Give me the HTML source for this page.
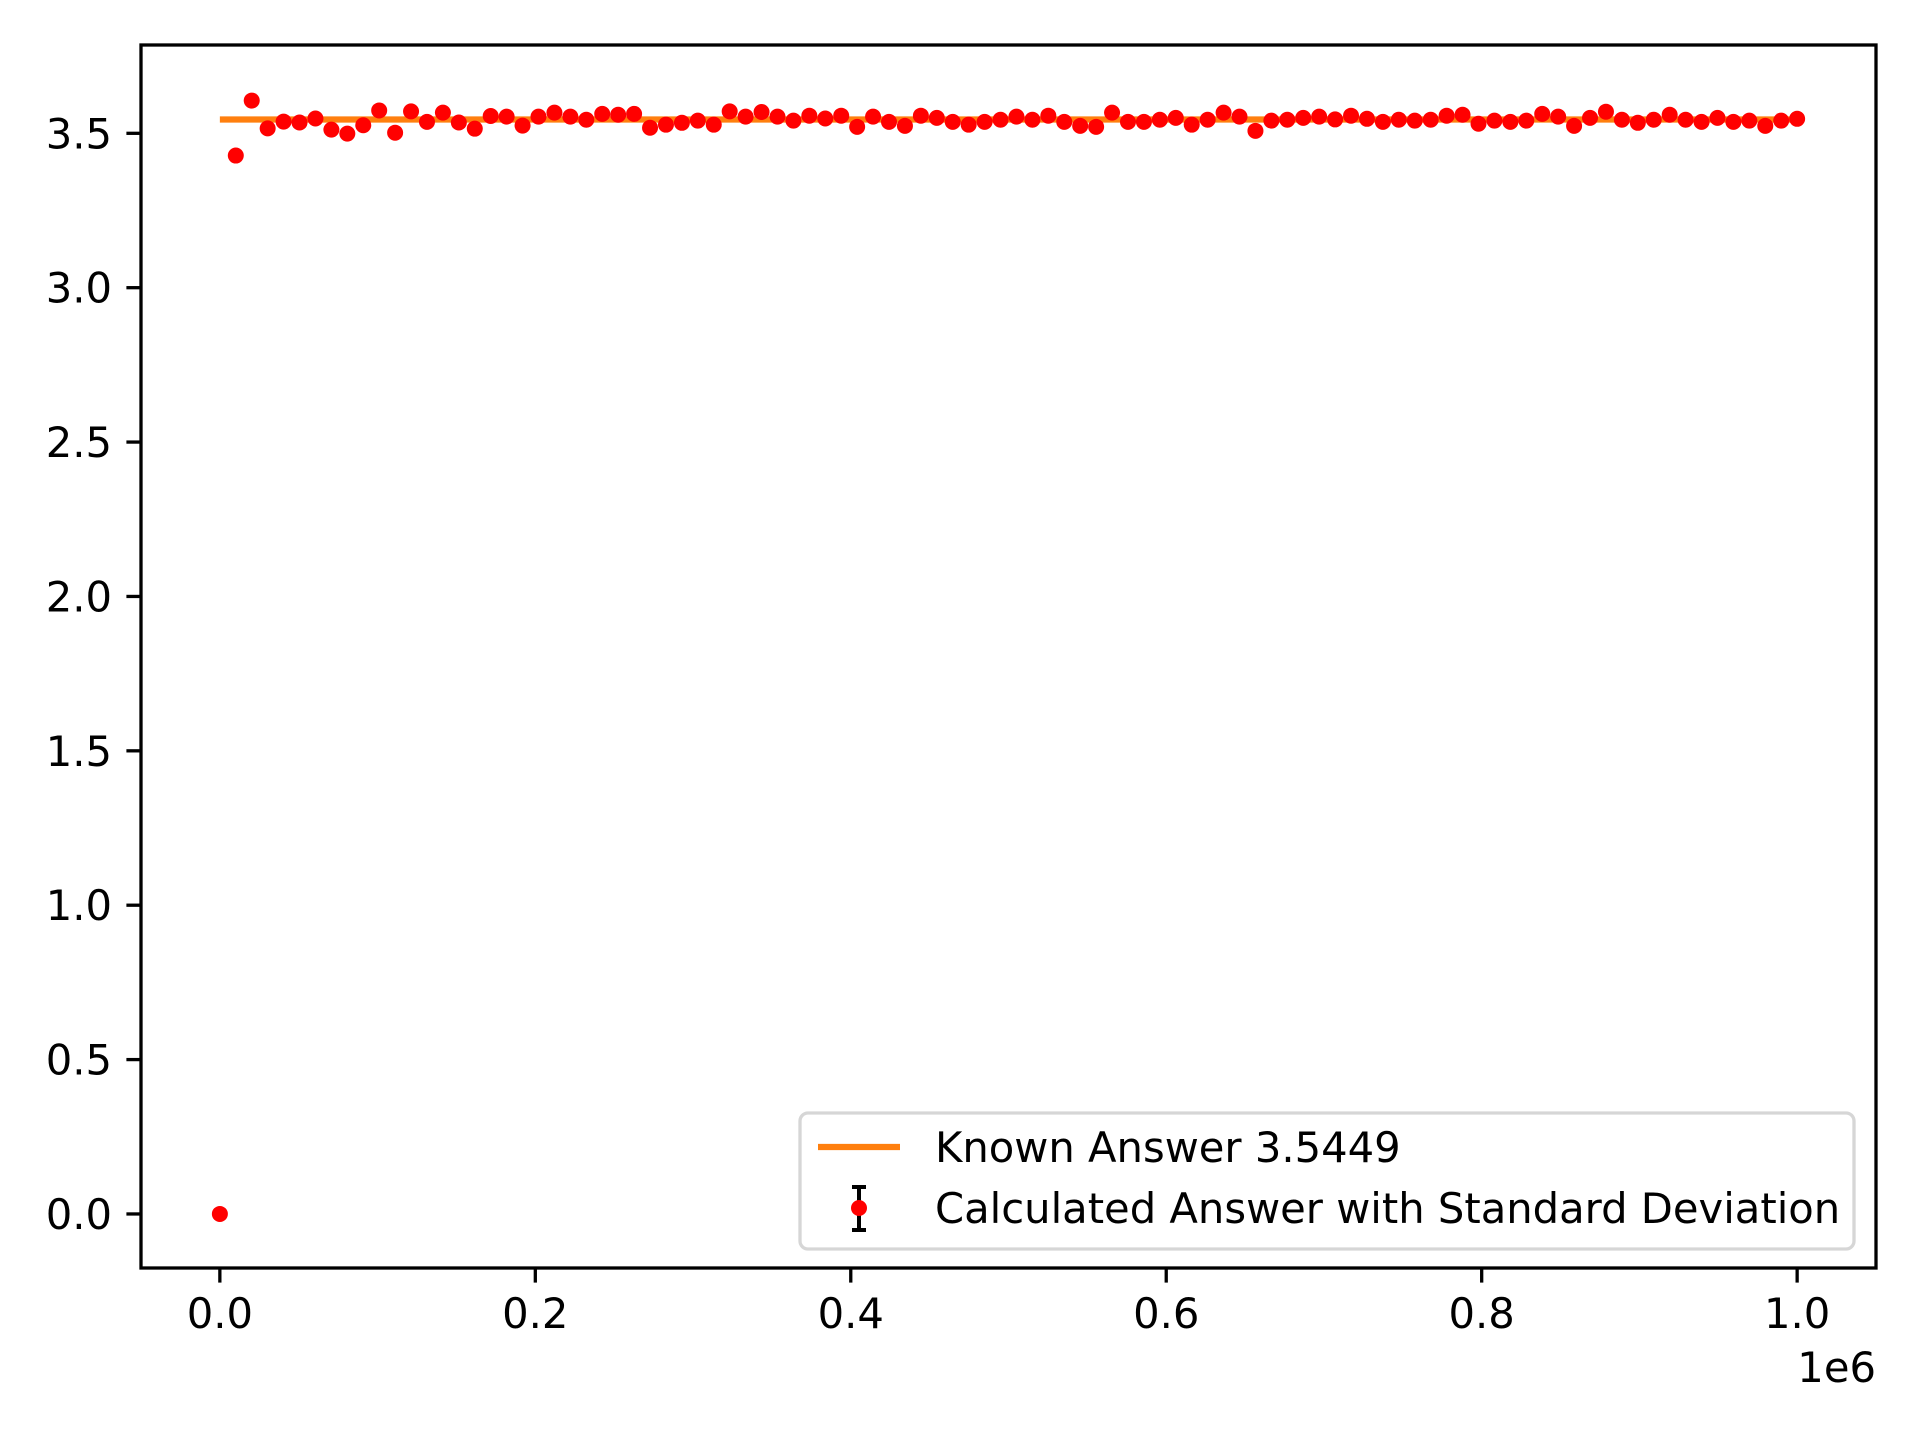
<!DOCTYPE html>
<html><head><meta charset="utf-8">
<style>
html,body{margin:0;padding:0;background:#fff;}
svg{display:block;font-family:"DejaVu Sans","Liberation Sans",sans-serif;}
</style></head>
<body>
<svg id="chart" width="1920" height="1440" viewBox="0 0 1920 1440" xmlns="http://www.w3.org/2000/svg">
<rect x="0" y="0" width="1920" height="1440" fill="#fff"/>
<g id="marks"></g>
<rect x="141" y="45" width="1735" height="1223" fill="none" stroke="#000" stroke-width="3.3"/>
<g id="xticks"></g>
<g id="yticks"></g>
<text x="1876" y="1382" text-anchor="end" font-size="41.7">1e6</text>
<g>
<rect x="800" y="1113" width="1054" height="136" rx="8" fill="#fff" fill-opacity="0.8" stroke="#d6d6d6" stroke-width="3.3"/>
<line x1="818" y1="1147" x2="900" y2="1147" stroke="#ff7f0e" stroke-width="6.25"/>
<text x="935" y="1162" font-size="41.7">Known Answer 3.5449</text>
<g>
<line x1="859" y1="1187" x2="859" y2="1230" stroke="#000" stroke-width="4"/>
<line x1="852" y1="1187" x2="866" y2="1187" stroke="#000" stroke-width="4"/>
<line x1="852" y1="1230" x2="866" y2="1230" stroke="#000" stroke-width="4"/>
<circle cx="859" cy="1208" r="8" fill="#ff0000"/>
</g>
<text x="935" y="1223" font-size="41.7">Calculated Answer with Standard Deviation</text>
</g>
</svg>
<script>
const xTicks = [0, 0.2, 0.4, 0.6, 0.8, 1.0];
const xTickLabels = ["0.0", "0.2", "0.4", "0.6", "0.8", "1.0"];
const yTicks = [0, 0.5, 1.0, 1.5, 2.0, 2.5, 3.0, 3.5];
const yTickLabels = ["0.0", "0.5", "1.0", "1.5", "2.0", "2.5", "3.0", "3.5"];
const knownAnswer = 3.5449;
const calcValues = [0,
3.428,3.606,3.516,3.538,3.535,3.548,3.512,3.499,3.526,3.574,3.502,
3.571,3.537,3.567,3.535,3.515,3.556,3.554,3.525,3.554,3.567,3.554,3.544,3.563,3.560,3.563,3.518,3.528,3.534,3.541,3.528,3.571,3.554,3.569,3.554,3.541,3.557,3.548,3.557,3.521,
3.554,3.537,3.524,3.557,3.550,3.537,3.528,3.537,3.544,3.554,3.544,3.557,3.537,3.524,3.521,3.567,3.537,3.537,3.544,3.550,3.528,3.544,3.567,3.554,3.508,3.541,3.544,3.550,3.554,
3.545,3.557,3.547,3.537,3.544,3.541,3.544,3.557,3.560,3.531,3.541,3.537,3.541,3.563,3.554,3.524,3.550,3.570,3.544,3.534,3.544,3.560,3.544,3.537,3.550,3.537,3.541,3.524,3.541,3.547];
const xMin = 0, xMax = 1.0; // in units of 1e6

const NS = "http://www.w3.org/2000/svg";
const L = 141, R = 1876, T = 45, B = 1268;
const xd0 = -0.05, xd1 = 1.05, yd0 = -0.175, yd1 = 3.786;
function sx(v){ return L + (v - xd0) / (xd1 - xd0) * (R - L); }
function sy(v){ return B - (v - yd0) / (yd1 - yd0) * (B - T); }
function mk(tag, attrs, parent){ const e = document.createElementNS(NS, tag); for (const k in attrs) e.setAttribute(k, attrs[k]); parent.appendChild(e); return e; }

const marks = document.getElementById('marks');
const kl = mk('line', {x1: sx(xMin), x2: sx(xMax), y1: sy(knownAnswer), y2: sy(knownAnswer), stroke: '#ff7f0e', 'stroke-width': 6.25}, marks);


const n = calcValues.length;
calcValues.forEach((v, i) => {
  const xv = xMin + (xMax - xMin) * i / (n - 1);
  const c = mk('circle', {cx: sx(xv), cy: sy(v), r: 8, fill: '#ff0000'}, marks);
  
  
});

const xg = document.getElementById('xticks');
xTicks.forEach((t, i) => {
  const x = sx(t);
  const tl = mk('line', {x1: x, x2: x, y1: B, y2: B + 14.6, stroke: '#000', 'stroke-width': 3.3}, xg);
  
  
  const tx = mk('text', {x: x, y: B + 60, 'text-anchor': 'middle', 'font-size': 41.7}, xg);
  tx.textContent = xTickLabels[i];
  
  
});
const yg = document.getElementById('yticks');
yTicks.forEach((t, i) => {
  const y = sy(t);
  const tl = mk('line', {x1: L - 14.6, x2: L, y1: y, y2: y, stroke: '#000', 'stroke-width': 3.3}, yg);
  
  
  const tx = mk('text', {x: L - 29, y: y + 15, 'text-anchor': 'end', 'font-size': 41.7}, yg);
  tx.textContent = yTickLabels[i];
  
  
});
</script>
</body></html>
